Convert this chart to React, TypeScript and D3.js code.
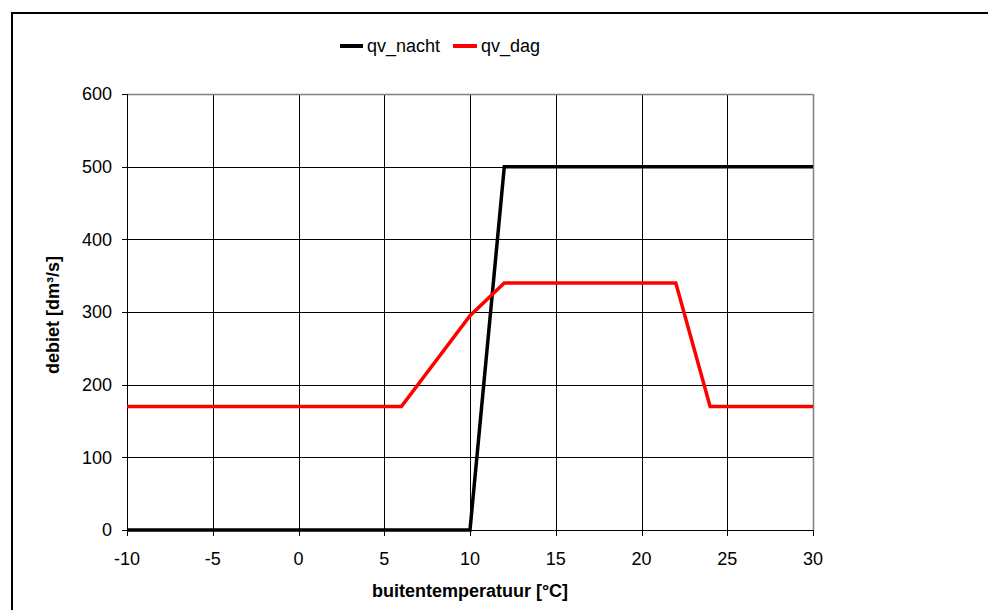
import React from "react";
import * as d3 from "d3";

const xTicks = [-10, -5, 0, 5, 10, 15, 20, 25, 30];
const yTicks = [0, 100, 200, 300, 400, 500, 600];
const nachtT = [-10, 10, 12, 30];
const nachtQ = [0, 0, 500, 500];
const dagT = [-10, 6, 10, 12, 22, 24, 30];
const dagQ = [170, 170, 295, 340, 340, 170, 170];
const seriesNames = ["qv_nacht", "qv_dag"];
const seriesColors = ["#000000", "#ff0000"];

const W = 988;
const H = 610;
const left = 127, right = 813, top = 94, bottom = 530;
const FONT = "'Liberation Sans', Arial, sans-serif";

export default function App() {
  const x = d3.scaleLinear().domain([-10, 30]).range([left, right]);
  const y = d3.scaleLinear().domain([0, 600]).range([bottom, top]);
  const line = d3
    .line<[number, number]>()
    .x((d) => x(d[0]))
    .y((d) => y(d[1]));
  const nacht: [number, number][] = nachtT.map((t, i) => [t, nachtQ[i]]);
  const dag: [number, number][] = dagT.map((t, i) => [t, dagQ[i]]);
  const data = [nacht, dag];

  return (
    <svg
      width={W}
      height={H}
      style={{ position: "absolute", left: 0, top: 0, background: "#fff" }}
      fontFamily={FONT}
    >
      <rect x={0} y={0} width={W} height={H} fill="#fff" />
      <rect x={12} y={13} width={W + 20} height={H + 20} fill="none" stroke="#000" strokeWidth={2} />
      {/* gridlines */}
      {yTicks.slice(1, -1).map((v) => (
        <line key={"hy" + v} x1={left} x2={right} y1={Math.round(y(v)) + 0.5} y2={Math.round(y(v)) + 0.5} stroke="#000" strokeWidth={1} />
      ))}
      {xTicks.slice(1, -1).map((v) => (
        <line key={"vx" + v} x1={Math.round(x(v)) + 0.5} x2={Math.round(x(v)) + 0.5} y1={top} y2={bottom} stroke="#000" strokeWidth={1} />
      ))}
      {/* plot border top/right */}
      <line x1={left} x2={right} y1={top + 0.5} y2={top + 0.5} stroke="#808080" strokeWidth={1.5} />
      <line x1={right + 0.5} x2={right + 0.5} y1={top} y2={bottom} stroke="#808080" strokeWidth={1.5} />
      {/* axes */}
      <line x1={left + 0.5} x2={left + 0.5} y1={top} y2={bottom} stroke="#000" strokeWidth={1} />
      <line x1={left} x2={right} y1={bottom + 0.5} y2={bottom + 0.5} stroke="#000" strokeWidth={1} />
      {yTicks.map((v) => (
        <g key={"yt" + v}>
          <line x1={left - 5} x2={left} y1={Math.round(y(v)) + 0.5} y2={Math.round(y(v)) + 0.5} stroke="#000" />
          <text x={112} y={y(v)} dy="0.35em" textAnchor="end" fontSize={18} fill="#000">
            {v}
          </text>
        </g>
      ))}
      {xTicks.map((v) => (
        <g key={"xt" + v}>
          <line x1={Math.round(x(v)) + 0.5} x2={Math.round(x(v)) + 0.5} y1={bottom} y2={bottom + 6} stroke="#000" />
          <text x={x(v)} y={565} textAnchor="middle" fontSize={18} fill="#000">
            {v}
          </text>
        </g>
      ))}
      {/* series */}
      {data.map((d, i) => (
        <path key={"s" + i} d={line(d) || ""} fill="none" stroke={seriesColors[i]} strokeWidth={3.5} strokeLinejoin="miter" />
      ))}
      {/* axis titles */}
      <text x={470} y={597} textAnchor="middle" fontSize={18} fontWeight="bold" fill="#000">
        buitentemperatuur [°C]
      </text>
      <text transform="translate(59,315) rotate(-90)" textAnchor="middle" fontSize={18} fontWeight="bold" fill="#000">
        debiet [dm³/s]
      </text>
      {/* legend */}
      <line x1={340} x2={363} y1={46} y2={46} stroke={seriesColors[0]} strokeWidth={4} />
      <text x={367} y={52} fontSize={18} fill="#000">{seriesNames[0]}</text>
      <line x1={453} x2={477} y1={46} y2={46} stroke={seriesColors[1]} strokeWidth={4} />
      <text x={481} y={52} fontSize={18} fill="#000">{seriesNames[1]}</text>
    </svg>
  );
}
